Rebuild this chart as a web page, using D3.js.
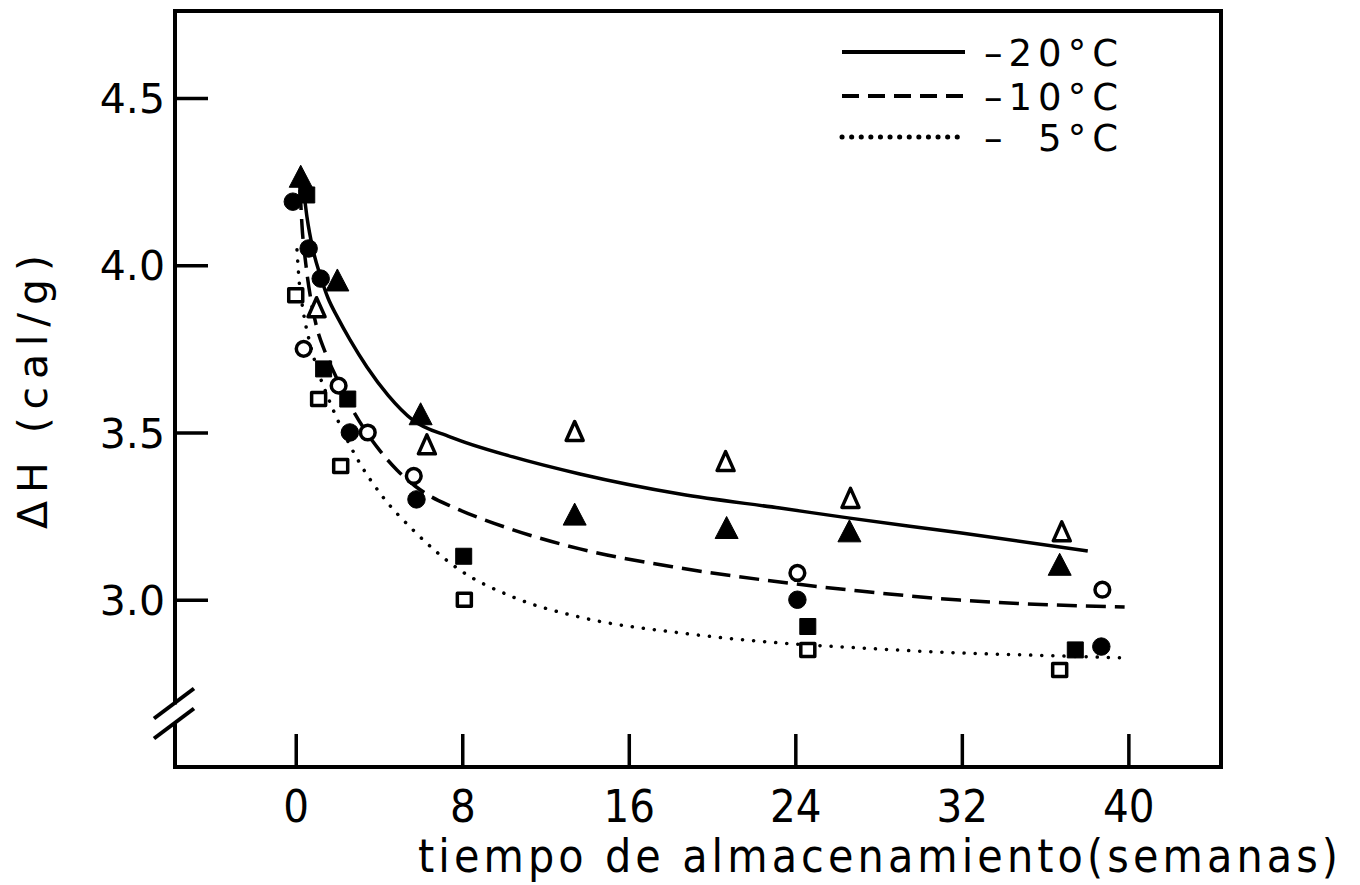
<!DOCTYPE html>
<meta charset="utf-8">
<style>
body { margin: 0; background: #fff; }
svg { display: block; }
.frame { fill: none; stroke: #000; stroke-width: 4px; stroke-linecap: square; }
.axis .domain { display: none; }
.axis line { stroke: #000; stroke-width: 3.5px; }
.axis text { fill: #000; }
.ytick text { font-family: "DejaVu Sans", sans-serif; font-size: 41px; }
.xtick text { font-family: "Liberation Sans Narrow", "DejaVu Sans Condensed", sans-serif; font-size: 45px; }
.curve { fill: none; stroke: #000; stroke-width: 3.5px; }
.title { font-family: "Liberation Sans Narrow", "DejaVu Sans Condensed", sans-serif; font-size: 46px; }
.ylabel { font-family: "DejaVu Sans", sans-serif; font-size: 41px; }
.legend text { font-family: "DejaVu Sans", sans-serif; font-size: 37px; letter-spacing: 6px; }
</style>
<body>
<script src="https://cdn.jsdelivr.net/npm/d3@7"></script>
<script>

// ---- values ----
var xTicks = [0, 8, 16, 24, 32, 40];
var yTicks = [3.0, 3.5, 4.0, 4.5];
var legendLabels = ["\u201320\u00b0C", "\u201310\u00b0C", "\u2013\u20075\u00b0C"];

// fitted curves, [weeks, dH]
var curve20 = [[0.30, 4.27], [0.54, 4.144], [0.83, 4.046], [1.17, 3.971], [1.55, 3.902], [2.03, 3.842],
  [2.61, 3.777], [3.42, 3.696], [4.43, 3.612], [5.63, 3.537], [7.41, 3.487], [10.44, 3.427],
  [13.65, 3.376], [18.46, 3.316], [23.26, 3.274], [26.62, 3.244], [31.90, 3.200], [38.05, 3.146]];
var curve10 = [[0.21, 4.225], [0.30, 4.120], [0.49, 4.001], [0.73, 3.896], [1.02, 3.812], [1.41, 3.741],
  [1.94, 3.666], [2.61, 3.582], [3.33, 3.507], [4.05, 3.445], [4.86, 3.388], [5.73, 3.340],
  [6.45, 3.310], [7.55, 3.277], [10.44, 3.209], [13.65, 3.152], [18.46, 3.095], [23.26, 3.053],
  [27.10, 3.026], [31.90, 2.999], [39.82, 2.978]];
var curve5 = [[0.06, 4.046], [0.16, 3.956], [0.35, 3.866], [0.64, 3.777], [1.02, 3.693], [1.50, 3.612],
  [2.13, 3.522], [2.85, 3.433], [4.19, 3.307], [5.63, 3.209], [7.74, 3.095], [10.44, 3.008],
  [13.65, 2.948], [18.46, 2.901], [23.26, 2.871], [27.10, 2.856], [31.90, 2.841], [36.70, 2.832], [39.82, 2.826]];

// measured points
var triFilled = [[0.24, 4.26], [2.0, 3.95], [6.0, 3.55], [13.4, 3.25], [20.7, 3.21], [26.6, 3.20], [36.7, 3.10]];
var triOpen = [[1.0, 3.87], [6.3, 3.46], [13.4, 3.50], [20.65, 3.41], [26.65, 3.30], [36.8, 3.20]];
var circFilled = [[-0.14, 4.19], [0.62, 4.05], [1.2, 3.96], [2.6, 3.50], [5.8, 3.30], [24.1, 3.00], [38.7, 2.86]];
var circOpen = [[0.38, 3.75], [2.06, 3.64], [3.46, 3.50], [5.67, 3.37], [24.1, 3.08], [38.75, 3.03]];
var sqFilled = [[0.53, 4.21], [1.34, 3.69], [2.5, 3.60], [8.07, 3.13], [24.6, 2.92], [37.45, 2.85]];
var sqOpen = [[0, 3.91], [1.1, 3.60], [2.16, 3.40], [8.1, 3.00], [24.6, 2.85], [36.7, 2.79]];

var width = 1360, height = 885;

var x = d3.scaleLinear().domain([-5.8, 44.45]).range([175, 1221]);
var y = d3.scaleLinear().domain([2.5, 4.76]).range([767, 11]);

var svg = d3.select("body").append("svg")
    .attr("width", width)
    .attr("height", height);

// frame (left side has a break near the bottom)
var x0 = x.range()[0], x1 = x.range()[1], y0 = y.range()[0], y1 = y.range()[1];
var yb = y(2.66);
svg.append("path")
    .attr("class", "frame")
    .attr("d", `M${x0},${yb - 11}L${x0},${y1}L${x1},${y1}L${x1},${y0}L${x0},${y0}L${x0},${yb + 12}`);

// break marks
[-10, 10].forEach(function(off) {
  svg.append("line")
      .attr("x1", x0 - 21).attr("y1", yb + off + 15)
      .attr("x2", x0 + 19).attr("y2", yb + off - 15)
      .attr("stroke", "#000").attr("stroke-width", 4);
});

// axes, ticks point inward
svg.append("g")
    .attr("class", "axis ytick")
    .attr("transform", `translate(${x0},0)`)
    .call(d3.axisLeft(y).tickValues(yTicks).tickFormat(d3.format(".1f"))
      .tickSizeInner(-33).tickSizeOuter(0).tickPadding(10))
  .selectAll("text")
    .attr("dy", "0.36em");

svg.append("g")
    .attr("class", "axis xtick")
    .attr("transform", `translate(0,${y0})`)
    .call(d3.axisBottom(x).tickValues(xTicks).tickFormat(d3.format("d"))
      .tickSizeInner(-33).tickSizeOuter(0).tickPadding(23));

// axis titles
svg.append("text")
    .attr("class", "title")
    .attr("x", 418).attr("y", 872)
    .attr("textLength", 920)
    .attr("lengthAdjust", "spacing")
    .text("tiempo de almacenamiento(semanas)");

svg.append("text")
    .attr("class", "ylabel")
    .attr("transform", "translate(47,392) rotate(-90)")
    .attr("text-anchor", "middle")
    .attr("textLength", 274)
    .attr("lengthAdjust", "spacing")
    .text("\u0394H (cal/g)");

// curves
var line = d3.line()
    .x(d => x(d[0]))
    .y(d => y(d[1]))
    .curve(d3.curveMonotoneX);

var dashes = ["none", "20 9", "0.1 11"];
[curve20, curve10, curve5].forEach(function(c, i) {
  svg.append("path")
      .datum(c)
      .attr("class", "curve")
      .attr("d", line)
      .attr("stroke-dasharray", dashes[i])
      .attr("stroke-width", i == 2 ? 5 : 3.5)
      .attr("stroke-linecap", i == 2 ? "round" : "butt");
});

// markers
var triPath = "M0,-13L11.5,9L-11.5,9Z";
var triOpenPath = "M0,-11L8.5,8L-8.5,8Z";

function drawPoints(data, kind, filled) {
  var g = svg.append("g");
  var sel = g.selectAll("path")
      .data(data)
    .enter()
      .append("path")
      .attr("transform", d => `translate(${x(d[0])},${y(d[1])})`)
      .attr("fill", filled ? "#000" : "#fff")
      .attr("stroke", "#000")
      .attr("stroke-width", filled ? 1 : 3.5)
      .attr("stroke-linejoin", "round");
  if (kind == "tri") {
    sel.attr("d", filled ? triPath : triOpenPath);
  } else if (kind == "circ") {
    sel.attr("d", d3.symbol(d3.symbolCircle, filled ? 240 : 170)());
  } else {
    sel.attr("d", filled ? "M-8,-8H8V8H-8Z" : "M-7,-6.5H7V6.5H-7Z");
  }
}

drawPoints(sqOpen, "sq", false);
drawPoints(sqFilled, "sq", true);
drawPoints(circOpen, "circ", false);
drawPoints(circFilled, "circ", true);
drawPoints(triOpen, "tri", false);
drawPoints(triFilled, "tri", true);

// legend
var legendY = [52, 96, 137];
var legend = svg.append("g").attr("class", "legend");
legendLabels.forEach(function(lbl, i) {
  legend.append("line")
      .attr("x1", 842).attr("x2", 965)
      .attr("y1", legendY[i]).attr("y2", legendY[i])
      .attr("stroke", "#000")
      .attr("stroke-width", i == 2 ? 5 : 4)
      .attr("stroke-linecap", i == 2 ? "round" : "butt")
      .attr("stroke-dasharray", i == 0 ? "none" : (i == 1 ? "17 9" : "0.1 9.5"));
  legend.append("text")
      .attr("x", 1124).attr("y", legendY[i] + 14)
      .attr("text-anchor", "end")
      .text(lbl);
});

</script>
